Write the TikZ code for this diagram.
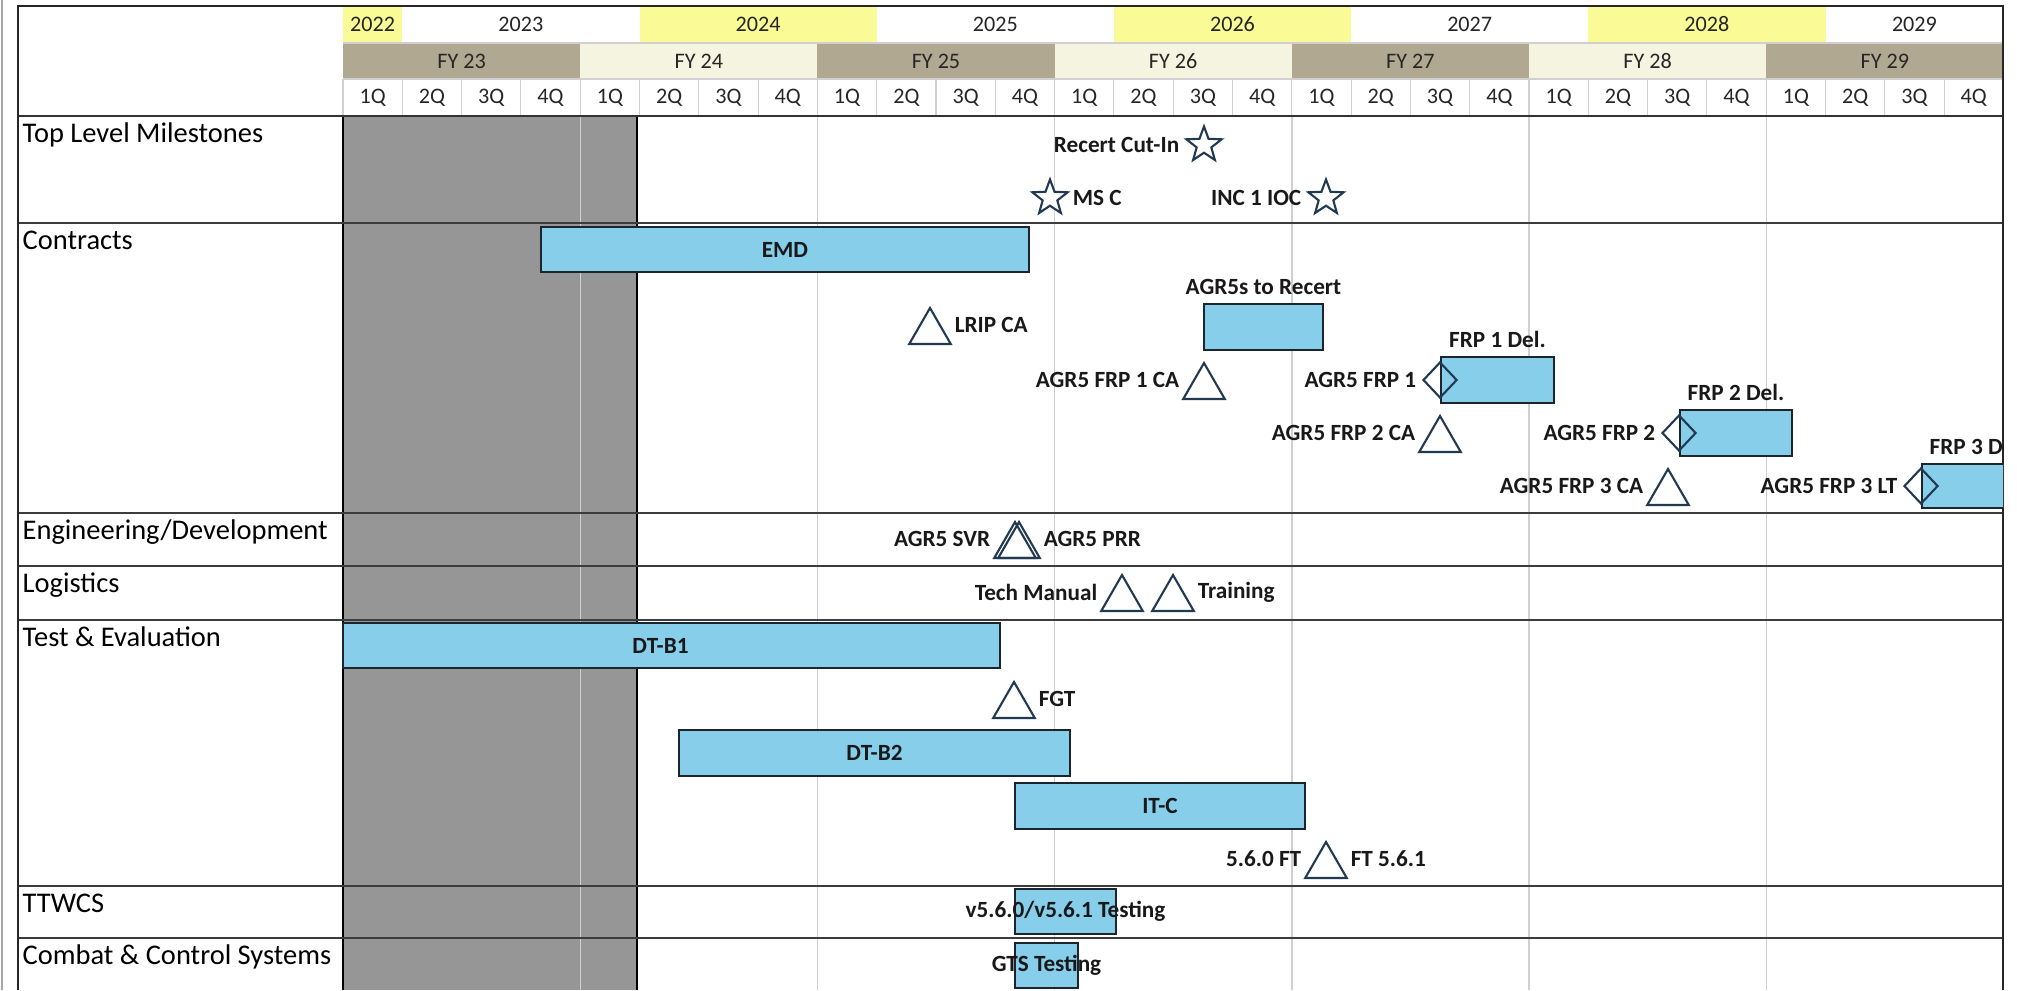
\documentclass[tikz,border=0pt]{standalone}
\usepackage{fontspec}
\setmainfont{Carlito}
\usepackage{tikz}
\usetikzlibrary{calc,positioning,fit,shapes}

\definecolor{barblue}{RGB}{135,206,235}
\definecolor{barline}{RGB}{28,36,46}
\definecolor{mkline}{RGB}{33,58,82}
\definecolor{fydark}{RGB}{176,168,145}
\definecolor{fylight}{RGB}{244,244,224}
\definecolor{yryellow}{RGB}{250,250,150}
\definecolor{greyfill}{RGB}{150,150,150}
\definecolor{gridgray}{RGB}{208,208,208}
\definecolor{rowline}{RGB}{60,60,60}
\definecolor{txtdark}{RGB}{25,25,25}

\begin{document}
\begin{tikzpicture}[x=0.01cm,y=-0.01cm,
  bar/.style={rectangle,draw=barline,fill=barblue,line width=0.55pt,inner sep=0pt},
  lbl/.style={font=\fontsize{6.6}{8}\selectfont\bfseries,text=txtdark,inner sep=0pt},
  row/.style={font=\fontsize{8.1}{10}\selectfont,anchor=base west,inner sep=0pt},
  hdr/.style={font=\fontsize{6.3}{8}\selectfont,text=black!85,inner sep=0pt},
  tri/.style={regular polygon,regular polygon sides=3,minimum size=0.48cm,inner sep=0pt,draw=mkline,fill=white,line width=0.6pt},
  mstar/.style={star,star points=5,star point ratio=2.4,minimum size=0.37cm,inner sep=0pt,draw=mkline,fill=white,line width=0.6pt},
  dmd/.style={diamond,minimum width=0.34cm,minimum height=0.36cm,inner sep=0pt,draw=mkline,line width=0.6pt},
  tl/.style={label={[lbl,yshift=0.07cm,xshift=-0.09cm]left:#1}},
  tr/.style={label={[lbl,yshift=0.07cm,xshift=0.09cm]right:#1}},
  sl/.style={label={[lbl,xshift=-0.12cm]left:#1}},
  sr/.style={label={[lbl,xshift=0.1cm]right:#1}},
  dl/.style={label={[lbl,xshift=-0.05cm]left:#1}}]
  \useasboundingbox (0,0) rectangle (2017,990);
  \fill[white] (0,0) rectangle (2017,990);
  \draw[gray!70,line width=0.6pt] (2,0) -- (2,990);

  \foreach \qa/\qb/\yr/\col in {0/1/2022/yryellow,1/5/2023/white,5/9/2024/yryellow,9/13/2025/white,13/17/2026/yryellow,17/21/2027/white,21/25/2028/yryellow,25/28/2029/white}{
    \fill[\col] ({343+59.3*\qa},6) rectangle ({343+59.3*\qb},43);
    \node[hdr] (y\yr) at ({343+59.3*(\qa+\qb)/2},24.5) {\yr};
  }
  \foreach \qa/\fy/\col in {0/23/fydark,4/24/fylight,8/25/fydark,12/26/fylight,16/27/fydark,20/28/fylight,24/29/fydark}{
    \fill[\col] ({343+59.3*\qa},43) rectangle ({343+59.3*(\qa+4)},79);
    \node[hdr] (fy\fy) at ({343+59.3*(\qa+2)},61) {FY \fy};
  }
  \foreach \i in {0,...,27}{
    \pgfmathtruncatemacro\qn{mod(\i,4)+1}
    \draw[gridgray,line width=0.3pt] ({343+59.3*\i},79) -- ({343+59.3*\i},116);
    \node[hdr] (q\i) at ({343+59.3*(\i+0.5)},97.5) {\qn Q};
  }
  \draw[gridgray,line width=0.4pt] (343,43) -- (2003,43) (343,79) -- (2003,79);

  \fill[greyfill] (343,116) rectangle (637,990);
  \foreach \k in {1,...,6}
    \draw[gridgray,line width=0.4pt] ({343+237.2*\k},116) -- ({343+237.2*\k},990);
  \draw[black,line width=0.5pt] (343,116) -- (343,990) (637,116) -- (637,990);
  \foreach \ry in {223,513,566,620,886,938}
    \draw[rowline,line width=0.6pt] (18,\ry) -- (2003,\ry);
  \draw[black!80,line width=0.8pt] (18,116) -- (2003,116);
  \draw[black!85,line width=0.7pt] (18,990) -- (18,6) -- (2003,6) -- (2003,990);

  \node[row] (tlm) at (22,142) {Top Level Milestones};
  \node[row] (con) at (22,249) {Contracts};
  \node[row] (eng) at (22,539) {Engineering/Development};
  \node[row] (log) at (22,592) {Logistics};
  \node[row] (tae) at (22,646) {Test \& Evaluation};
  \node[row] (ttw) at (22,912) {TTWCS};
  \node[row] (ccs) at (22,964) {Combat \& Control Systems};

  \begin{scope}
  \clip (18,6) rectangle (2003,990);
  \node[mstar,sl=Recert Cut-In] (recut) at (1204,145) {};
  \node[mstar,sr=MS C] (msc) at (1050,198) {};
  \node[mstar,sl=INC 1 IOC] (ioc) at (1326,198) {};

  \node[bar,fit={(541,227) (1029,272)}] (emd) {};
  \node[lbl] (emdl) at (emd) {EMD};
  \node[tri,tr=LRIP CA] (lrip) at (930,332) {};
  \node[bar,fit={(1204,304) (1323,350)}] (recert) {};
  \node[lbl,above=0.08cm of recert] (recertl) {AGR5s to Recert};
  \node[tri,tl=AGR5 FRP 1 CA] (frp1ca) at (1204,387) {};
  \node[bar,fit={(1441,357) (1554,403)}] (frp1) {};
  \node[lbl,above=0.08cm of frp1] (frp1l) {FRP 1 Del.};
  \node[dmd,dl=AGR5 FRP 1] (frp1d) at (frp1.west) {};
  \node[tri,tl=AGR5 FRP 2 CA] (frp2ca) at (1440,440) {};
  \node[bar,fit={(1680,410) (1792,456)}] (frp2) {};
  \node[lbl,above=0.08cm of frp2] (frp2l) {FRP 2 Del.};
  \node[dmd,dl=AGR5 FRP 2] (frp2d) at (frp2.west) {};
  \node[tri,tl=AGR5 FRP 3 CA] (frp3ca) at (1668,493) {};
  \node[bar,fit={(1922,464) (2034,508)}] (frp3) {};
  \node[lbl,above=0.08cm of frp3] (frp3l) {FRP 3 Del.};
  \node[dmd,dl=AGR5 FRP 3 LT] (frp3d) at (frp3.west) {};

  \node[tri,tl=AGR5 SVR] (svr) at (1015,546) {};
  \node[tri,fill=none,tr=AGR5 PRR] (prr) at (1019,546) {};

  \node[tri,tl=Tech Manual] (techm) at (1122,599) {};
  \node[tri,tr=Training] (train) at (1173,599) {};

  \node[bar,fit={(343,623) (1000,668)}] (dtb1) {};
  \node[lbl] (dtb1l) at ($(dtb1)+(-11,0)$) {DT-B1};
  \node[tri,tr=FGT] (fgt) at (1014,706) {};
  \node[bar,fit={(679,730) (1070,776)}] (dtb2) {};
  \node[lbl] (dtb2l) at (dtb2) {DT-B2};
  \node[bar,fit={(1015,783) (1305,829)}] (itc) {};
  \node[lbl] (itcl) at (itc) {IT-C};
  \node[tri,tl=5.6.0 FT,tr=FT 5.6.1] (ft) at (1326,866) {};

  \node[bar,fit={(1015,889) (1116,934)}] (ttwcs) {};
  \node[lbl] (ttwcsl) at (ttwcs) {v5.6.0/v5.6.1 Testing};
  \node[bar,fit={(1015,943) (1078,988)}] (gts) {};
  \node[lbl] (gtsl) at (gts) {GTS Testing};
  \end{scope}
\end{tikzpicture}
\end{document}
